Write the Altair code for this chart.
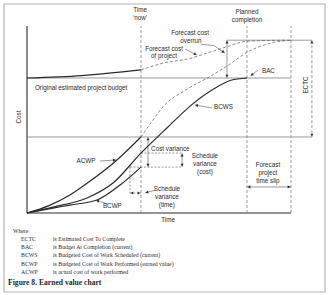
import math
import altair as alt
import pandas as pd

# ---------------- data (time units, cost units) ----------------
T_NOW, T_PLAN, T_FORE, T_ECTC = 5.18, 10.0, 12.0, 12.95
T_SV = 4.68          # when BCWS reached today's BCWP
T_CV = 5.5           # position of cost-variance arrow
T_SVC = 7.05         # position of schedule-variance (cost) arrow
T_OVR = 9.09         # position of overrun arrow
BAC, EAC, TOP = 100.0, 128.0, 138.5
ACWP_NOW, BCWS_NOW, BCWP_NOW = 56.3, 44.4, 34.0
C_SLIP, C_SVT = 19.3, 14.8

acwp_t = [0, 1.0, 1.95, 2.73, 4.09, 5.18]
acwp_c = [0, 5.5, 13.3, 22.0, 39.3, 56.3]
bcws_t = [0, 1.18, 2.73, 3.91, 5.18, 6.36, 7.55, 8.5, 9.27, 10.0]
bcws_c = [0, 4.4, 11.1, 22.2, 44.4, 63.0, 81.0, 92.0, 98.3, 100.0]
bcwp_t = [0, 1.18, 1.95, 3.18, 4.23, 5.18]
bcwp_c = [0, 3.6, 5.9, 9.6, 20.7, 34.0]
budget_t = [0, 2.5, 5.18]
budget_c = [100, 101.8, 106]
fc_acwp_t = [5.18, 5.6, 6.2, 7.3, 8.3, 9.2, 10.0, 11.0, 12.0]
fc_acwp_c = [56.3, 66, 79, 92, 101, 110, 119, 125.5, 128]
fc_proj_t = [5.18, 6.18, 7.27, 8.77, 10.1, 12.0]
fc_proj_c = [106, 111, 114, 121.5, 127.4, 128]

where_abbr = ["ECTC", "BAC", "BCWS", "BCWP", "ACWP"]
where_desc = ["is Estimated Cost To Complete",
              "is Budget At Completion (current)",
              "is Budgeted Cost of Work Scheduled (current)",
              "is Budgeted Cost of Work Performed (earned value)",
              "is actual cost of work performed"]
caption = "Figure 8. Earned value chart"

# ---------------- scales ----------------
W, H = 328, 295
XDOM = [-1.2273, 13.682]
YDOM = [-60.74, 157.78]
PX_T = W / (XDOM[1] - XDOM[0])
PX_C = H / (YDOM[1] - YDOM[0])
xs = alt.Scale(domain=XDOM, nice=False, zero=False)
ys = alt.Scale(domain=YDOM, nice=False, zero=False)
X = lambda f: alt.X(f, type="quantitative", scale=xs, axis=None)
Y = lambda f: alt.Y(f, type="quantitative", scale=ys, axis=None)

INK = "#2a2a2a"
GREY = "#6e6e6e"


def curves(items):
    rows = []
    for name, ts, cs in items:
        for i, (t, c) in enumerate(zip(ts, cs)):
            rows.append({"s": name, "t": t, "c": c, "o": i})
    return pd.DataFrame(rows)


def segs(lst):
    return pd.DataFrame([{"t": a, "c": b, "t2": c, "c2": d} for a, b, c, d in lst])


def head(t1, c1, t2, c2):
    dx = (t2 - t1) * PX_T
    dy = -(c2 - c1) * PX_C
    L = math.hypot(dx, dy)
    ux, uy = dx / L, dy / L
    ang = math.degrees(math.atan2(ux, -uy)) % 360
    return {"t": t2 - ux * 2.0 / PX_T, "c": c2 + uy * 2.0 / PX_C, "a": ang}


solid = curves([("ACWP", acwp_t, acwp_c), ("BCWS", bcws_t, bcws_c),
                ("BCWP", bcwp_t, bcwp_c), ("Budget", budget_t, budget_c)])
dashed = curves([("fa", fc_acwp_t, fc_acwp_c), ("fp", fc_proj_t, fc_proj_c)])

axes = segs([(0, 0, 0, TOP), (0, 0, T_FORE, 0)])
thin = segs([(0, BAC, T_FORE, BAC), (0, ACWP_NOW, T_ECTC, ACWP_NOW),
             (T_OVR, EAC, T_ECTC, EAC),
             (T_CV, ACWP_NOW, T_CV, BCWP_NOW),
             (T_SVC, BCWS_NOW, T_SVC, BCWP_NOW),
             (T_OVR, EAC, T_OVR, BAC),
             (T_PLAN, C_SLIP, T_FORE, C_SLIP)])
dash_v = segs([(T_NOW, 0, T_NOW, TOP), (T_PLAN, 0, T_PLAN, TOP), (T_FORE, 0, T_FORE, TOP),
               (T_ECTC, EAC, T_ECTC, ACWP_NOW)])
dash_thin = segs([(T_NOW, BCWS_NOW, T_SVC, BCWS_NOW), (T_SV, BCWP_NOW, T_SVC, BCWP_NOW),
                  (T_SV, BCWP_NOW, T_SV, C_SVT), (T_SV, C_SVT, T_NOW, C_SVT)])

leaders = [(3.32, 38.5, 4.06, 39.3),      # ACWP
           (3.68, 6.7, 3.12, 9.4),        # BCWP
           (8.41, 77.8, 7.62, 80.0),      # BCWS
           (10.5, 105.9, 10.15, 101.5),   # BAC
           (7.18, 121.5, 7.73, 117.0),    # forecast cost of project
           (8.5, 124.0, 9.0, 118.5),      # overrun
           (5.86, 17.0, 5.36, 14.9)]      # SV time
lead = segs([(7.9, 125.0, 8.5, 124.0)] + leaders)

heads = pd.DataFrame([
    head(T_CV, 50, T_CV, ACWP_NOW), head(T_CV, 40, T_CV, BCWP_NOW),
    head(T_SVC, 39, T_SVC, BCWS_NOW), head(T_SVC, 39, T_SVC, BCWP_NOW),
    head(T_OVR, 114, T_OVR, EAC), head(T_OVR, 114, T_OVR, BAC),
    head(T_ECTC, 90, T_ECTC, EAC), head(T_ECTC, 90, T_ECTC, ACWP_NOW),
    head(11, C_SLIP, T_PLAN, C_SLIP), head(11, C_SLIP, T_FORE, C_SLIP),
    head(T_NOW, C_SVT, T_SV, C_SVT), head(T_SV, C_SVT, T_NOW, C_SVT),
] + [head(*l) for l in leaders])

txt_center = pd.DataFrame([
    (5.14, 150.4, "Time"), (5.14, 144.6, "\u2018now\u2019"),
    (10.0, 148.9, "Planned"), (10.0, 143.0, "completion"),
    (7.41, 133.3, "Forecast cost"), (7.45, 127.4, "overrun"),
    (6.23, 121.5, "Forecast cost"), (6.23, 116.0, "of project"),
    (2.68, 38.5, "ACWP"),
    (8.09, 42.2, "Schedule"), (8.09, 36.3, "variance"), (8.09, 30.4, "(cost)"),
    (6.36, 17.8, "Schedule"), (6.36, 11.9, "variance"), (6.36, 5.9, "(time)"),
    (10.95, 35.6, "Forecast"), (10.95, 29.6, "project"), (10.95, 23.7, "time slip"),
    (6.41, -5.2, "Time"),
], columns=["t", "c", "txt"])
txt_left = pd.DataFrame([
    (10.68, 105.2, "BAC"), (0.36, 92.6, "Original estimated project budget"),
    (8.5, 78.5, "BCWS"), (3.45, 5.2, "BCWP"), (5.64, 47.4, "Cost variance"),
], columns=["t", "c", "txt"])
txt_rot = pd.DataFrame([(-0.36, 71.1, "Cost"), (12.68, 94.8, "ECTC")],
                       columns=["t", "c", "txt"])

row_c = [-19.3, -25.2, -31.1, -37.8, -43.7]
where_df = pd.DataFrame(
    [{"t": -0.64, "c": -13.3, "txt": "Where"}] +
    [{"t": -0.27, "c": rc, "txt": a} for rc, a in zip(row_c, where_abbr)] +
    [{"t": 1.18, "c": rc, "txt": d} for rc, d in zip(row_c, where_desc)])
cap_df = pd.DataFrame([{"t": -0.86, "c": -51.9, "txt": caption}])

SANS = "Liberation Sans"
SERIF = "Liberation Serif"

frame = alt.Chart(pd.DataFrame({"k": [0]})).mark_rect(
    fill="white", stroke="#b5b5b5", strokeWidth=1.2).encode(
    x=alt.value(4), x2=alt.value(325), y=alt.value(4), y2=alt.value(292))


def rule(df, **kw):
    return alt.Chart(df).mark_rule(**kw).encode(x=X("t"), y=Y("c"), x2="t2", y2="c2")


def text(df, **kw):
    return alt.Chart(df).mark_text(color=INK, baseline="middle", **kw).encode(
        x=X("t"), y=Y("c"), text="txt")


layers = [
    frame,
    rule(axes, color=INK, strokeWidth=1.1),
    rule(thin, color=GREY, strokeWidth=0.7),
    rule(dash_v, color=GREY, strokeWidth=0.7, strokeDash=[3, 2]),
    rule(dash_thin, color=GREY, strokeWidth=0.7, strokeDash=[2, 1.5]),
    rule(lead, color=GREY, strokeWidth=0.7),
    alt.Chart(solid).mark_line(color=INK, strokeWidth=1.2, interpolate="monotone").encode(
        x=X("t"), y=Y("c"), detail="s:N", order="o:Q"),
    alt.Chart(dashed).mark_line(color=GREY, strokeWidth=0.8, strokeDash=[3, 2],
                                interpolate="monotone").encode(
        x=X("t"), y=Y("c"), detail="s:N", order="o:Q"),
    alt.Chart(heads).mark_point(shape="triangle-up", filled=True, size=10, color=INK,
                                opacity=1).encode(
        x=X("t"), y=Y("c"), angle=alt.Angle("a:Q", scale=None)),
    text(txt_center, font=SANS, fontSize=6.3, align="center"),
    text(txt_left, font=SANS, fontSize=6.3, align="left"),
    text(txt_rot, font=SANS, fontSize=6.3, align="center", angle=270),
    text(where_df, font=SERIF, fontSize=5.8, align="left"),
    text(cap_df, font=SERIF, fontSize=7.6, align="left", fontWeight="bold"),
]

chart = alt.layer(*layers).properties(
    width=W, height=H, padding=0, autosize="none", background="white"
).configure_view(strokeWidth=0)

chart.save("out.html", embed_options={"renderer": "svg", "actions": False})
